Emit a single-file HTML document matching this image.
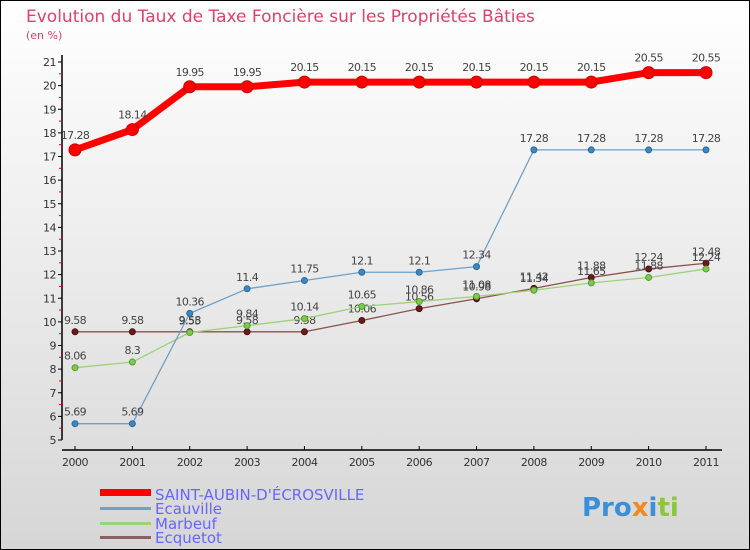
<!DOCTYPE html>
<html><head><meta charset="utf-8"><style>
body{margin:0;width:750px;height:550px;overflow:hidden}
svg{display:block;font-family:"DejaVu Sans","Liberation Sans",sans-serif}
</style></head><body>
<svg id="c" width="750" height="550">
<defs><linearGradient id="bg" x1="0" y1="0" x2="0" y2="1"><stop offset="0" stop-color="#ffffff"/><stop offset="1" stop-color="#d6d6d6"/></linearGradient></defs>
<rect x="0.5" y="0.5" width="749" height="549" fill="url(#bg)" stroke="#000"/>
<text x="26" y="22" font-size="17" fill="#e0406a">Evolution du Taux de Taxe Foncière sur les Propriétés Bâties</text>
<text x="26" y="39" font-size="11" fill="#e0406a">(en %)</text>
<g id="axes"></g><g id="series"></g>
<g>
<rect x="100" y="489" width="51" height="7" fill="#f00"/>
<text x="155" y="500" font-size="15" fill="#6666ff">SAINT-AUBIN-D'ÉCROSVILLE</text>
<rect x="100" y="507" width="51" height="3" fill="#6fa0c8"/>
<text x="155" y="514" font-size="15" fill="#6666ff">Ecauville</text>
<rect x="100" y="522" width="51" height="3" fill="#9bd27a"/>
<text x="155" y="529" font-size="15" fill="#6666ff">Marbeuf</text>
<rect x="100" y="536" width="51" height="3" fill="#8a6060"/>
<text x="155" y="543" font-size="15" fill="#6666ff">Ecquetot</text>
</g>
<text x="582" y="516" font-size="26" font-weight="bold" fill="#3a8fd8">Pro<tspan fill="#f08a20">x</tspan>i<tspan fill="#8cc63f">ti</tspan></text>
</svg>
<script>
const years=["2000","2001","2002","2003","2004","2005","2006","2007","2008","2009","2010","2011"];
const yTicks=[5,6,7,8,9,10,11,12,13,14,15,16,17,18,19,20,21];
const sab=[17.28,18.14,19.95,19.95,20.15,20.15,20.15,20.15,20.15,20.15,20.55,20.55];
const ecauville=[5.69,5.69,10.36,11.4,11.75,12.1,12.1,12.34,17.28,17.28,17.28,17.28];
const marbeuf=[8.06,8.3,9.55,9.84,10.14,10.65,10.86,11.08,11.34,11.65,11.88,12.24];
const ecquetot=[9.58,9.58,9.58,9.58,9.58,10.06,10.56,10.98,11.42,11.88,12.24,12.48];
const NS="http://www.w3.org/2000/svg";
const X=i=>75+i*(706-75)/11;
const Y=v=>440-(v-5)*(440-62)/16;
function mk(t,a,p){const e=document.createElementNS(NS,t);for(const k in a)e.setAttribute(k,a[k]);p.appendChild(e);return e;}
const ax=document.getElementById('axes');
const yl=mk('line',{x1:62,y1:55,x2:62,y2:440,stroke:'#000','stroke-width':1.5},ax);


const xl=mk('line',{x1:62,y1:450,x2:722,y2:450,stroke:'#000','stroke-width':1.5},ax);


yTicks.forEach(v=>{
 mk('line',{x1:58,x2:62,y1:Y(v),y2:Y(v),stroke:'#000'},ax);
 if(v<21)mk('line',{x1:59,x2:62,y1:Y(v+0.5),y2:Y(v+0.5),stroke:'#e00'},ax);
 const t=mk('text',{x:56,y:Y(v)+4,'font-size':11,'text-anchor':'end',fill:'#333','letter-spacing':'-0.5'},ax);t.textContent=v;
 
 
});
years.forEach((y,i)=>{
 mk('line',{x1:X(i),x2:X(i),y1:446,y2:450,stroke:'#000'},ax);
 const t=mk('text',{x:X(i),y:466,'font-size':11,'text-anchor':'middle',fill:'#333','letter-spacing':'-0.5'},ax);t.textContent=y;
 
 
});
const sg=document.getElementById('series');
function series(data,name,col,w,r,dot,dotStroke){
 const g=mk('g',{},sg);
 
 
 const pl=mk('polyline',{points:data.map((v,i)=>X(i)+','+Y(v)).join(' '),fill:'none',stroke:col,'stroke-width':w,'stroke-linejoin':'round'},g);
 
 
 data.forEach((v,i)=>{
  const c=mk('circle',{cx:X(i),cy:Y(v),r:r,fill:dot,stroke:dotStroke,'stroke-width':1},g);
  
  
  const t=mk('text',{x:X(i),y:Y(v)-(r+5),'font-size':11,'text-anchor':'middle',fill:'#444','letter-spacing':'-0.6'},g);
  t.textContent=v;
  
  
 });
}
series(ecquetot,'ecquetot','#8a5050',1.3,3,'#6a1a1a','#4a1010');
series(marbeuf,'marbeuf','#9bd27a',1.3,3,'#7ccc4a','#5a9a30');
series(ecauville,'ecauville','#6fa0c8',1.3,3,'#3a88c4','#2a6a9a');
series(sab,'saint-aubin','#f00',7,6,'#f00','#c00');
</script>
</body></html>
